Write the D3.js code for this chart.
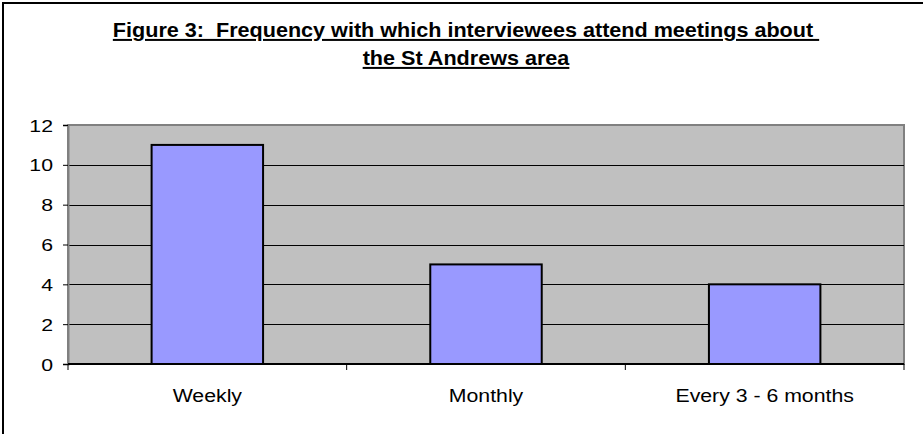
<!DOCTYPE html>
<html><head><meta charset="utf-8">
<script src="https://cdn.jsdelivr.net/npm/d3@7"></script>
<style>body{margin:0;background:#fff;} text{font-family:"Liberation Sans",Arial,sans-serif;}</style>
</head><body>
<svg id="chart" width="923" height="434"></svg>
<script>
const categories = ["Weekly", "Monthly", "Every 3 - 6 months"];
const values = [11, 5, 4];
const yTicks = [0, 2, 4, 6, 8, 10, 12];
const titleLines = ["Figure 3:  Frequency with which interviewees attend meetings about ", "the St Andrews area"];

const svg = d3.select("#chart");
const m = {left: 68, right: 904, top: 125, bottom: 364};

svg.append("rect").attr("x", 3).attr("y", 3).attr("width", 940).attr("height", 450)
  .attr("fill", "#fff").attr("stroke", "#000").attr("stroke-width", 2);

const x = d3.scaleBand().domain(categories).range([m.left, m.right]).paddingInner(0.6).paddingOuter(0.3);
const xb = d3.scaleBand().domain(categories).range([m.left, m.right]).padding(0);
const y = d3.scaleLinear().domain([0, 12]).range([m.bottom, m.top]);

// plot background
svg.append("rect").attr("x", m.left).attr("y", m.top).attr("width", m.right - m.left).attr("height", m.bottom - m.top)
  .attr("fill", "#c0c0c0").attr("stroke", "#808080").attr("stroke-width", 2);

// gridlines
svg.append("g").selectAll("line").data(yTicks.filter(d => d > 0 && d < 12)).join("line")
  .attr("x1", m.left).attr("x2", m.right).attr("y1", d => Math.round(y(d)) + 0.5).attr("y2", d => Math.round(y(d)) + 0.5)
  .attr("stroke", "#000").attr("stroke-width", 1);

// bars
svg.append("g").selectAll("rect").data(values).join("rect")
  .attr("x", (d, i) => x(categories[i])).attr("width", x.bandwidth())
  .attr("y", d => y(d)).attr("height", d => y(0) - y(d))
  .attr("fill", "#9999ff").attr("stroke", "#000").attr("stroke-width", 2);

// y axis
const yAxis = svg.append("g").attr("transform", `translate(${m.left},0)`)
  .call(d3.axisLeft(y).tickValues(yTicks).tickSize(5).tickFormat(d3.format("d")));
yAxis.select(".domain").attr("stroke", "#808080").attr("stroke-width", 2);
yAxis.selectAll(".tick line").attr("stroke", "#000");
yAxis.selectAll(".tick text").remove();
yAxis.selectAll(".tick").append("text")
  .attr("transform", `translate(-15,6) scale(1.25,1)`)
  .attr("text-anchor", "end").attr("fill", "#000").attr("font-size", 17)
  .attr("font-family", "Liberation Sans, Arial, sans-serif")
  .text(d => d);

// x axis
svg.append("line").attr("x1", m.left).attr("x2", m.right).attr("y1", m.bottom).attr("y2", m.bottom)
  .attr("stroke", "#000").attr("stroke-width", 2);
const bounds = categories.map(c => xb(c)).concat([m.right]);
svg.append("g").selectAll("line").data(bounds).join("line")
  .attr("x1", d => d).attr("x2", d => d).attr("y1", m.bottom).attr("y2", m.bottom + 6)
  .attr("stroke", "#000").attr("stroke-width", 1);
svg.append("g").selectAll("text").data(categories).join("text")
  .attr("transform", d => `translate(${xb(d) + xb.bandwidth() / 2},402) scale(1.12,1)`)
  .attr("text-anchor", "middle").attr("font-size", 19).attr("fill", "#000")
  .text(d => d);

// title
svg.append("g").selectAll("text").data(titleLines).join("text")
  .attr("transform", (d, i) => `translate(466,${37 + i * 28}) scale(1.08,1)`)
  .attr("text-anchor", "middle").attr("font-size", 20).attr("font-weight", "bold")
  .attr("text-decoration", "underline").style("white-space", "pre").attr("fill", "#000")
  .text(d => d);
</script>
</body></html>
